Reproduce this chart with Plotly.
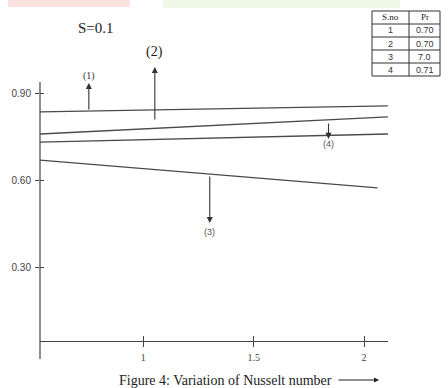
import plotly.graph_objects as go

# ---- data ----
x_left = [0.532, 0.532, 0.532, 0.532]
x_right = [2.108, 2.108, 2.061, 2.108]
y_left = [0.838, 0.762, 0.672, 0.734]
y_right = [0.859, 0.821, 0.576, 0.762]
curve_ids = ["(1)", "(2)", "(3)", "(4)"]

# arrows: tail on curve, head toward label
arrow_x = [0.753, 1.052, 1.301, 1.839]
arrow_tail_y = [0.841, 0.807, 0.621, 0.803]
arrow_head_y = [0.938, 0.993, 0.455, 0.745]
label_y = [0.963, 1.046, 0.425, 0.726]

x_ticks = [1, 1.5, 2]
x_tick_text = ["1", "1.5", "2"]
y_ticks = [0.30, 0.60, 0.90]
y_tick_text = ["0.30", "0.60", "0.90"]

table_header = ["S.no", "Pr"]
table_sno = ["1", "2", "3", "4"]
table_pr = ["0.70", "0.70", "7.0", "0.71"]

W, H = 448, 388
def px(x):
    return x / W
def py(y):
    return 1 - y / H

line_col = "#4a4a4a"
fig = go.Figure()
for i in range(4):
    fig.add_trace(go.Scatter(x=[x_left[i], x_right[i]], y=[y_left[i], y_right[i]],
                             mode="lines", line=dict(color=line_col, width=1.3),
                             showlegend=False, hoverinfo="skip", cliponaxis=False))

xdom = [px(40), px(388)]
ydom = [py(341), py(40)]
xr = [0.5317, 2.1086]
yr = [0.0483, 1.086]

fig.update_layout(
    width=W, height=H, margin=dict(l=0, r=0, t=0, b=0),
    paper_bgcolor="white", plot_bgcolor="white", showlegend=False,
    xaxis=dict(domain=xdom, range=xr, showgrid=False, zeroline=False,
               showline=True, linecolor="#444", linewidth=1.2,
               tickvals=x_ticks, ticktext=x_tick_text, ticks="outside",
               ticklen=5, tickcolor="#444", ticklabelstandoff=2,
               tickfont=dict(family="Liberation Serif", size=10, color="#444"),
               anchor="y", fixedrange=True),
    yaxis=dict(domain=ydom, range=yr, showgrid=False, zeroline=False,
               showline=False,
               tickvals=y_ticks, ticktext=y_tick_text, ticks="outside",
               ticklen=4, tickcolor="#444", ticklabelstandoff=2,
               tickfont=dict(family="Liberation Sans", size=10, color="#444"),
               anchor="x", fixedrange=True),
    xaxis2=dict(domain=xdom, range=xr, overlaying="x", anchor="y",
                showgrid=False, zeroline=False, showticklabels=False,
                tickvals=x_ticks, ticks="inside", ticklen=5, tickcolor="#444"),
    yaxis2=dict(domain=ydom, range=yr, overlaying="y", anchor="x",
                showgrid=False, zeroline=False, showticklabels=False,
                tickvals=y_ticks, ticks="inside", ticklen=4, tickcolor="#444"),
)
# dummy trace to activate overlay axes
fig.add_trace(go.Scatter(x=[xr[0]], y=[yr[0]], xaxis="x2", yaxis="y2",
                         mode="markers", marker=dict(opacity=0), showlegend=False,
                         hoverinfo="skip"))

shapes = []
# faint watermark at top
shapes.append(dict(type="rect", xref="paper", yref="paper", x0=px(8), x1=px(130),
                   y0=py(7), y1=py(0), fillcolor="#fde2e2", line=dict(width=0), layer="below"))
shapes.append(dict(type="rect", xref="paper", yref="paper", x0=px(163), x1=px(400),
                   y0=py(8), y1=py(0), fillcolor="#eff8e6", line=dict(width=0), layer="below"))
# y-axis line (drawn from top at 0.94 down past the x-axis)
shapes.append(dict(type="line", xref="x domain", yref="paper", x0=0, x1=0,
                   y0=py(359), y1=py(82), line=dict(color="#444", width=1.2)))

# table grid
tl, tm, tr_ = 372, 409, 440
ttop, rh = 11, 13
nrows = len(table_sno) + 1
tb = ttop + rh * nrows
shapes.append(dict(type="rect", xref="paper", yref="paper", x0=px(tl), x1=px(tr_),
                   y0=py(tb), y1=py(ttop), line=dict(color="#333", width=1),
                   fillcolor="white"))
shapes.append(dict(type="line", xref="paper", yref="paper", x0=px(tm), x1=px(tm),
                   y0=py(tb), y1=py(ttop), line=dict(color="#333", width=1)))
for r in range(1, nrows):
    shapes.append(dict(type="line", xref="paper", yref="paper", x0=px(tl), x1=px(tr_),
                       y0=py(ttop + r * rh), y1=py(ttop + r * rh),
                       line=dict(color="#333", width=1)))
fig.update_layout(shapes=shapes)

ann = []
label_fonts = [dict(family="Liberation Serif", size=10, color="#333"),
               dict(family="Liberation Serif", size=14, color="#222"),
               dict(family="Liberation Sans", size=9, color="#555"),
               dict(family="Liberation Sans", size=9, color="#555")]
for i in range(4):
    ann.append(dict(x=arrow_x[i], y=arrow_head_y[i], ax=arrow_x[i], ay=arrow_tail_y[i],
                    xref="x", yref="y", axref="x", ayref="y", text="",
                    showarrow=True, arrowhead=2, arrowsize=1.1, arrowwidth=1.1,
                    arrowcolor="#333"))
    ann.append(dict(x=arrow_x[i], y=label_y[i], xref="x", yref="y", text=curve_ids[i],
                    xanchor="center", yanchor="middle",
                    showarrow=False, font=label_fonts[i]))

# table text
cx = [(tl + tm) / 2, (tm + tr_) / 2]
for c, h in enumerate(table_header):
    ann.append(dict(x=px(cx[c]), y=py(ttop + rh / 2), xref="paper", yref="paper",
                    text=h, showarrow=False, xanchor="center", yanchor="middle",
                    font=dict(family="Liberation Serif", size=9, color="#222")))
for r in range(len(table_sno)):
    for c, col in enumerate([table_sno, table_pr]):
        ann.append(dict(x=px(cx[c]), y=py(ttop + rh * (r + 1) + rh / 2),
                        xref="paper", yref="paper", text=col[r], showarrow=False,
                        xanchor="center", yanchor="middle",
                        font=dict(family="Liberation Sans", size=9, color="#333")))

ann.append(dict(x=px(96), y=py(28), xref="paper", yref="paper", text="S=0.1",
                xanchor="center", yanchor="middle",
                showarrow=False, font=dict(family="Liberation Serif", size=15, color="#222")))
ann.append(dict(x=px(225), y=py(380), xref="paper", yref="paper",
                text="Figure 4: Variation of Nusselt number",
                xanchor="center", yanchor="middle",
                showarrow=False, font=dict(family="Liberation Serif", size=14, color="#222")))
ann.append(dict(x=px(379), y=py(380), ax=-42, ay=0, xref="paper", yref="paper",
                axref="pixel", ayref="pixel", text="", showarrow=True, arrowhead=2,
                arrowsize=1, arrowwidth=1, arrowcolor="#222"))
fig.update_layout(annotations=ann)

fig.write_html("out.html")
